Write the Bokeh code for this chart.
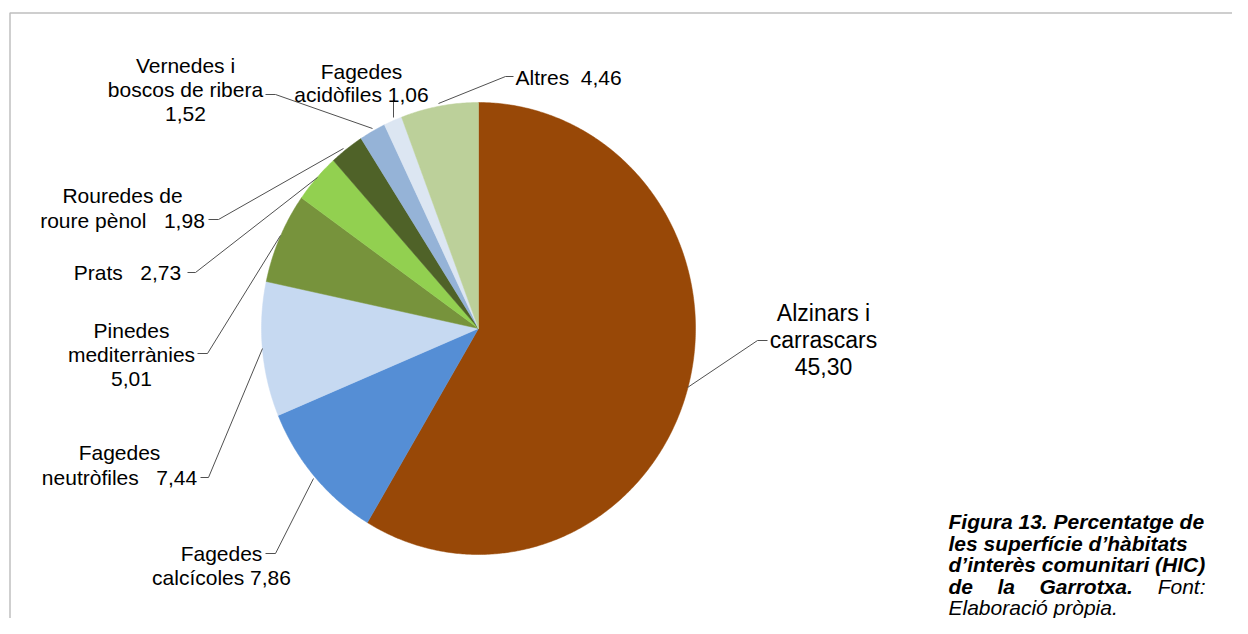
import numpy as np
from bokeh.plotting import figure
from bokeh.models import Range1d, ColumnDataSource
from bokeh.embed import file_html
from bokeh.resources import INLINE
from bokeh.core.properties import value

# ---------------- data ----------------
categories = ["Alzinars i carrascars", "Fagedes calcícoles", "Fagedes neutròfiles",
              "Pinedes mediterrànies", "Prats", "Rouredes de roure pènol",
              "Vernedes i boscos de ribera", "Fagedes acidòfiles", "Altres"]
values = [45.30, 7.86, 7.44, 5.01, 2.73, 1.98, 1.52, 1.06, 4.46]
colors = ["#984807", "#558ED5", "#C6D9F1", "#77933C", "#92D050",
          "#4F6228", "#95B3D7", "#DCE6F2", "#BCD09A"]

caption_bold = ["Figura 13. Percentatge de", "les superfície d\u2019hàbitats",
                "d\u2019interès comunitari (HIC)"]
caption_bold_words = ["de", "la", "Garrotxa."]
caption_regular = ["Font:", "Elaboració pròpia."]


def fmt(v):
    return f"{v:.2f}".replace(".", ",")


NB = "\u00a0"
label_lines = [
    ["Alzinars i", "carrascars", fmt(values[0])],
    ["Fagedes", "calcícoles " + fmt(values[1])],
    ["Fagedes", "neutròfiles" + NB * 3 + fmt(values[2])],
    ["Pinedes", "mediterrànies", fmt(values[3])],
    ["Prats" + NB * 3 + fmt(values[4])],
    ["Rouredes de", "roure pènol" + NB * 3 + fmt(values[5])],
    ["Vernedes i", "boscos de ribera", fmt(values[6])],
    ["Fagedes", "acidòfiles " + fmt(values[7])],
    ["Altres" + NB * 2 + fmt(values[8])],
]

# ---------------- layout (screen-like coordinates) ----------------
CX, CY, RX, RY = 478.0, 328.0, 217.0, 226.0
FONT = value("Liberation Sans")

# (x, first baseline y, line step, font size, align)
label_pos = [
    (823, 312, 27, "23px", "center"),
    (221, 553, 24, "21px", "center"),
    (119, 452, 25, "21px", "center"),
    (131, 330, 24, "21px", "center"),
    (127, 272, 0, "21px", "center"),
    (122, 195, 25, "21px", "center"),
    (185, 65, 24, "21px", "center"),
    (361, 71, 23, "21px", "center"),
    (515, 77, 0, "21px", "left"),
]

leaders = [
    ([687, 757, 767], [387, 340, 340]),
    ([313, 275, 265], [478, 553, 553]),
    ([262, 208, 200], [348, 477, 477]),
    ([280, 207, 197], [235, 353, 353]),
    ([317, 195, 187], [177, 272, 272]),
    ([343, 218, 208], [148, 219, 219]),
    ([372, 275, 265], [128, 94, 94]),
    ([393, 393], [117, 98]),
    ([438, 505, 513], [103, 76, 76]),
]

W, H = 1232, 618
p = figure(width=W, height=H, x_range=Range1d(0, W), y_range=Range1d(H, 0),
           output_backend="svg", toolbar_location=None, min_border=0,
           x_axis_type=None, y_axis_type=None, outline_line_color=None,
           background_fill_color="white", border_fill_color="white")
p.grid.visible = False

# frame border
p.line(x=[9.5, 9.5, W + 5], y=[H + 5, 12.5, 12.5], line_color="#BFBFBF", line_width=1.5)

# pie slices (clockwise from 12 o'clock)
total = float(sum(values))
cum = np.concatenate([[0.0], np.cumsum(values)]) / total * 2 * np.pi
xs, ys = [], []
for i in range(len(values)):
    a0, a1 = cum[i], cum[i + 1]
    n = max(int((a1 - a0) / (2 * np.pi) * 720), 4)
    th = np.linspace(a0, a1, n)
    xs.append([CX] + list(CX + RX * np.sin(th)))
    ys.append([CY] + list(CY - RY * np.cos(th)))
src = ColumnDataSource(dict(xs=xs, ys=ys, color=colors, name=categories))
p.patches("xs", "ys", source=src, fill_color="color", line_color="color", line_width=0.5)

# leader lines
for lx, ly in leaders:
    p.line(x=lx, y=ly, line_color="#505050", line_width=1)

# labels
for lines, (x, y0, step, size, align) in zip(label_lines, label_pos):
    p.text(x=[x] * len(lines), y=[y0 + k * step for k in range(len(lines))], text=lines,
           text_font=FONT, text_font_size=size, text_align=align,
           text_baseline="alphabetic", text_color="#000000")

# caption (justified paragraph)
cap_y = [521, 542.5, 564, 585.5, 607]
cap_style = dict(text_font=FONT, text_font_size="21px", text_baseline="alphabetic",
                 text_color="#000000")
p.text(x=[948] * 3, y=cap_y[:3], text=caption_bold, text_font_style="bold italic",
       text_align="left", **cap_style)
p.text(x=[948, 997, 1039], y=[cap_y[3]] * 3, text=caption_bold_words,
       text_font_style="bold italic", text_align="left", **cap_style)
p.text(x=[1205], y=[cap_y[3]], text=caption_regular[:1], text_font_style="italic",
       text_align="right", **cap_style)
p.text(x=[948], y=[cap_y[4]], text=caption_regular[1:], text_font_style="italic",
       text_align="left", **cap_style)

open("out.html", "w").write(file_html(p, INLINE))
